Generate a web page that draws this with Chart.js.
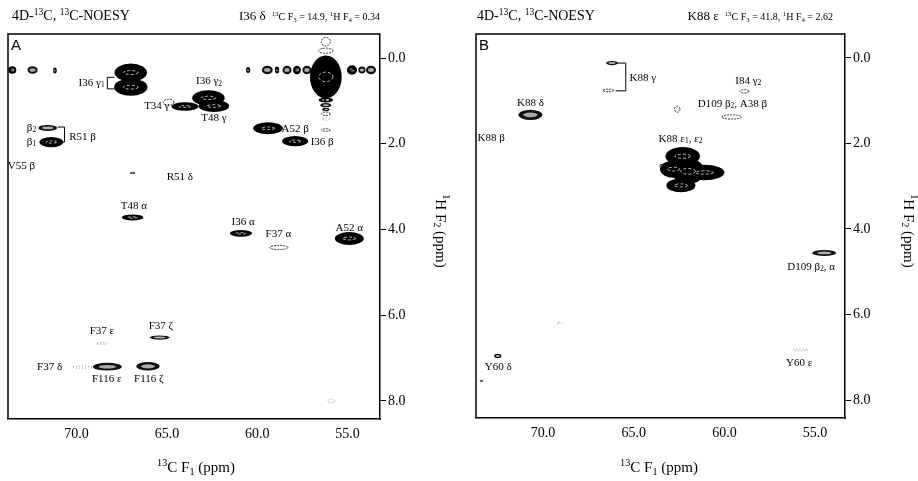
<!DOCTYPE html>
<html>
<head>
<meta charset="utf-8">
<script src="https://cdn.jsdelivr.net/npm/chart.js@4.4.0/dist/chart.umd.min.js"></script>
<style>
    body { margin: 0; background: #fff; }
    canvas { position: absolute; top: 0; }
    #chart-a { left: 0; }
    #chart-b { left: 459px; }
</style>
</head>
<body>
<canvas id="chart-a" width="459" height="481"></canvas>
<canvas id="chart-b" width="459" height="481"></canvas>
<script>
// tick labels (ppm)
const xTicks = [70, 65, 60, 55];
const yTicks = [0, 2, 4, 6, 8];

// axis ranges (ppm)
const rangeA_c = [53.2, 73.8];
const rangeB_c = [53.35, 73.7];
const rangeH = [-0.56, 8.42];

// panel A cross peaks: 13C F1, 1H F2, half widths, relative intensity
const peaksA_c = [73.56, 72.44, 71.2, 60.5, 59.44, 58.9, 58.35, 57.8, 57.25, 54.75, 54.2, 53.7,
    56.2, 56.2, 56.2, 56.2, 56.2, 56.2, 56.2, 56.2, 56.2,
    67.0, 67.0, 62.7, 64.0, 62.4, 64.9, 59.4, 57.9, 71.6, 71.4, 66.9,
    66.9, 60.9, 58.8, 54.9, 65.4, 68.6, 69.7, 68.3, 66.05, 55.9];
const peaksA_h = [0.28, 0.28, 0.29, 0.28, 0.28, 0.28, 0.28, 0.28, 0.28, 0.28, 0.28, 0.28,
    0.44, 0.98, 1.1, 1.2, 1.3, 1.42, -0.38, -0.17, 1.68,
    0.34, 0.68, 0.93, 1.13, 1.12, 1.03, 1.64, 1.94, 1.63, 1.96, 2.68,
    3.72, 4.09, 4.42, 4.21, 6.52, 6.66, 7.21, 7.2, 7.19, 8.0];
const peaksA_wc = [0.22, 0.28, 0.1, 0.12, 0.3, 0.12, 0.25, 0.22, 0.25, 0.28, 0.2, 0.28,
    0.88, 0.4, 0.3, 0.2, 0.25, 0.2, 0.25, 0.4, 0.25,
    0.9, 0.92, 0.9, 0.75, 0.85, 0.3, 0.82, 0.72, 0.52, 0.66, 0.15,
    0.6, 0.62, 0.5, 0.8, 0.55, 0.3, 0.55, 0.8, 0.65, 0.2];
const peaksA_wh = [0.09, 0.09, 0.07, 0.07, 0.1, 0.08, 0.1, 0.1, 0.1, 0.11, 0.08, 0.1,
    0.5, 0.06, 0.05, 0.04, 0.04, 0.03, 0.1, 0.06, 0.03,
    0.21, 0.2, 0.18, 0.1, 0.14, 0.07, 0.14, 0.12, 0.07, 0.12, 0.02,
    0.07, 0.08, 0.05, 0.15, 0.05, 0.02, 0.025, 0.09, 0.1, 0.04];
const peaksA_int = [0.85, 0.6, 0.85, 0.85, 0.6, 0.85, 0.6, 0.85, 0.6, 0.9, 0.6, 0.6,
    1, 0.85, 0.6, 0.85, 0.3, 0.15, 0.3, 0.3, 0.2,
    1, 1, 1, 1, 1, 0.3, 1, 1, 0.7, 1, 0.5,
    0.85, 0.85, 0.3, 1, 0.6, 0.15, 0.15, 0.7, 0.5, 0.15];

// panel B cross peaks
const peaksB_c = [66.2, 66.4, 70.7, 58.9, 59.6, 62.6, 62.0, 62.3, 62.8, 61.1, 62.4, 63.5, 54.5, 69.1, 72.5, 55.8, 73.4];
const peaksB_h = [0.12, 0.76, 1.33, 0.78, 1.38, 1.2, 2.65, 2.3, 2.6, 2.68, 2.98, 2.52, 4.56, 6.2, 6.97, 6.83, 7.55];
const peaksB_wc = [0.32, 0.3, 0.66, 0.25, 0.55, 0.15, 0.9, 0.95, 0.75, 1.1, 0.8, 0.08, 0.66, 0.12, 0.2, 0.4, 0.1];
const peaksB_wh = [0.05, 0.03, 0.12, 0.04, 0.05, 0.07, 0.3, 0.22, 0.2, 0.18, 0.16, 0.04, 0.07, 0.02, 0.05, 0.02, 0.02];
const peaksB_int = [0.5, 0.25, 0.6, 0.3, 0.35, 0.2, 1, 1, 1, 1, 1, 0.85, 0.45, 0.15, 0.7, 0.1, 0.6];

// assignments
const labelsA_text = ['I36 γ_{1}', 'I36 γ_{2}', 'T34 γ', 'T48 γ', 'A52 β', 'I36 β', 'β_{2}', 'β_{1}', 'R51 β',
    'V55 β', 'R51 δ', 'T48 α', 'I36 α', 'F37 α', 'A52 α', 'F37 ζ', 'F37 ε', 'F37 δ', 'F116 ε', 'F116 ζ'];
const labelsA_c = [69.17, 62.67, 65.56, 62.4, 57.9, 56.4, 72.5, 72.5, 69.67,
    73.06, 64.28, 66.83, 60.78, 58.83, 54.9, 65.33, 68.6, 71.5, 68.33, 66.0];
const labelsA_h = [0.58, 0.55, 1.12, 1.41, 1.66, 1.96, 1.63, 1.96, 1.84,
    2.52, 2.78, 3.45, 3.83, 4.11, 3.96, 6.26, 6.38, 7.22, 7.5, 7.5];

const labelsB_text = ['K88 γ', 'K88 δ', 'K88 β', 'I84 γ_{2}', 'D109 β_{2}, A38 β', 'K88 ε_{1}, ε_{2}',
    'D109 β_{2}, α', 'Y60 δ', 'Y60 ε'];
const labelsB_c = [64.5, 70.7, 72.86, 58.68, 59.56, 62.42, 55.22, 72.47, 55.88];
const labelsB_h = [0.47, 1.05, 1.87, 0.54, 1.07, 1.89, 4.88, 7.24, 7.13];

// brackets: vertical at c0, arms to c1, from h0 to h1
const bracketsA = [[68.3, 67.9, 0.45, 0.72], [70.67, 71.05, 1.61, 1.96]];
const bracketsB = [[65.44, 66.0, 0.12, 0.77]];

const SERIF = '"Liberation Serif", "DejaVu Serif", serif';
const SANS = '"Liberation Sans", Arial, sans-serif';

// tiny markup: ^{..} superscript, _{..} subscript
function parseRich(str) {
    const out = [];
    const re = /(\^|_)\{([^}]*)\}|([^\^_]+)/g;
    let m;
    while ((m = re.exec(str))) {
        if (m[3]) out.push({ t: m[3], mode: 0 });
        else out.push({ t: m[2], mode: m[1] === '^' ? 1 : -1 });
    }
    return out;
}

function drawRich(ctx, str, x, y, size, align, family) {
    const parts = parseRich(str);
    let w = 0;
    parts.forEach(p => {
        p.size = p.mode ? size * 0.68 : size;
        ctx.font = p.size + 'px ' + family;
        p.w = ctx.measureText(p.t).width;
        w += p.w;
    });
    let cx = align === 'center' ? x - w / 2 : align === 'right' ? x - w : x;
    ctx.textAlign = 'left';
    parts.forEach(p => {
        ctx.font = p.size + 'px ' + family;
        const dy = p.mode === 1 ? -size * 0.38 : p.mode === -1 ? size * 0.22 : 0;
        ctx.fillText(p.t, cx, y + dy);
        cx += p.w;
    });
    return w;
}

function fillPeak(ctx, px, py, rx, ry, level) {
    ctx.beginPath();
    ctx.ellipse(px, py, rx, ry, 0, 0, Math.PI * 2);
    if (level >= 0.8) {
        ctx.fillStyle = '#000';
        ctx.fill();
    } else if (level >= 0.45) {
        ctx.fillStyle = '#111';
        ctx.fill();
        ctx.beginPath();
        ctx.ellipse(px, py, rx * 0.6, ry * 0.45, 0, 0, Math.PI * 2);
        ctx.fillStyle = '#aaa';
        ctx.fill();
    } else {
        ctx.save();
        ctx.strokeStyle = level >= 0.2 ? '#333' : '#888';
        ctx.lineWidth = 1;
        ctx.setLineDash(level >= 0.2 ? [2, 1] : [1, 2]);
        ctx.stroke();
        ctx.restore();
    }
}

// white contour streaks inside strong peaks, drawn after all fills
function streakPeak(ctx, px, py, rx, ry, level) {
    if (level < 0.8) return;
    ctx.save();
    ctx.beginPath();
    ctx.ellipse(px, py, rx * 0.45, Math.max(ry * 0.22, 0.6), 0, 0, Math.PI * 2);
    ctx.strokeStyle = 'rgba(255,255,255,0.7)';
    ctx.lineWidth = 1;
    ctx.setLineDash([3, 2]);
    ctx.stroke();
    ctx.restore();
}

const spectrumPlugin = {
    id: 'spectrum',
    afterDatasetsDraw(chart) {
        const ctx = chart.ctx;
        const xs = chart.scales.x;
        const ys = chart.scales.y;
        const area = chart.chartArea;
        const cfg = chart.options.plugins.spectrum;

        const geo = chart.data.datasets[0].data.map(p => {
            const px = xs.getPixelForValue(p.x);
            const py = ys.getPixelForValue(p.y);
            return {
                px, py,
                rx: Math.abs(xs.getPixelForValue(p.x + p.wc) - px),
                ry: Math.abs(ys.getPixelForValue(p.y + p.wh) - py),
                i: p.i
            };
        });

        ctx.save();
        ctx.beginPath();
        ctx.rect(area.left, area.top, area.right - area.left, area.bottom - area.top);
        ctx.clip();
        geo.forEach(g => fillPeak(ctx, g.px, g.py, g.rx, g.ry, g.i));
        geo.forEach(g => streakPeak(ctx, g.px, g.py, g.rx, g.ry, g.i));
        ctx.restore();

        // frame top and left
        ctx.save();
        ctx.strokeStyle = '#000';
        ctx.lineWidth = 1.5;
        ctx.beginPath();
        ctx.moveTo(area.left, area.bottom);
        ctx.lineTo(area.left, area.top);
        ctx.lineTo(area.right, area.top);
        ctx.stroke();

        // brackets
        ctx.lineWidth = 1;
        cfg.brackets.forEach(b => {
            const x0 = xs.getPixelForValue(b[0]);
            const x1 = xs.getPixelForValue(b[1]);
            const y0 = ys.getPixelForValue(b[2]);
            const y1 = ys.getPixelForValue(b[3]);
            ctx.beginPath();
            ctx.moveTo(x1, y0);
            ctx.lineTo(x0, y0);
            ctx.lineTo(x0, y1);
            ctx.lineTo(x1, y1);
            ctx.stroke();
        });

        // assignments
        ctx.fillStyle = '#000';
        ctx.textBaseline = 'middle';
        cfg.labels.text.forEach((t, k) => {
            const px = xs.getPixelForValue(cfg.labels.c[k]);
            const py = ys.getPixelForValue(cfg.labels.h[k]);
            drawRich(ctx, t, px, py, 11, 'center', SERIF);
        });

        // panel letter
        ctx.textBaseline = 'alphabetic';
        ctx.font = '15px ' + SANS;
        ctx.textAlign = 'left';
        ctx.fillText(cfg.letter, area.left + 3, area.top + 16);

        // titles
        drawRich(ctx, '4D-^{13}C, ^{13}C-NOESY', cfg.titleLeft, 20, 14, 'left', SERIF);
        const w = drawRich(ctx, cfg.params, cfg.titleRight, 20, 10, 'right', SERIF);
        drawRich(ctx, cfg.nucleus, cfg.titleRight - w - 6, 20, 13, 'right', SERIF);

        // axis titles
        drawRich(ctx, '^{13}C F_{1} (ppm)', cfg.xTitleX, 472, 15, 'center', SERIF);
        ctx.translate(cfg.yTitleX, 231);
        ctx.rotate(Math.PI / 2);
        ctx.textBaseline = 'middle';
        drawRich(ctx, '^{1}H F_{2} (ppm)', 0, 0, 15, 'center', SERIF);
        ctx.restore();
    }
};

function buildPoints(c, h, wc, wh, inten) {
    return c.map((v, k) => ({ x: v, y: h[k], wc: wc[k], wh: wh[k], i: inten[k] }));
}

function makePanel(id, panel) {
    const tickFont = { family: SERIF, size: 14 };
    return new Chart(document.getElementById(id), {
        type: 'scatter',
        data: {
            datasets: [{
                data: panel.points,
                pointRadius: 0,
                pointHoverRadius: 0
            }]
        },
        options: {
            responsive: false,
            animation: false,
            events: [],
            layout: { padding: { left: panel.padLeft, top: 34, right: 0, bottom: 0 } },
            plugins: {
                legend: { display: false },
                tooltip: { enabled: false },
                spectrum: panel
            },
            scales: {
                x: {
                    type: 'linear',
                    reverse: true,
                    min: panel.range[0],
                    max: panel.range[1],
                    afterBuildTicks: s => { s.ticks = xTicks.map(v => ({ value: v })); },
                    afterFit: s => { s.height = panel.xHeight; },
                    ticks: {
                        callback: v => v.toFixed(1),
                        color: '#000',
                        font: tickFont,
                        padding: 7,
                        maxRotation: 0,
                        autoSkip: false
                    },
                    grid: { drawOnChartArea: false, drawTicks: false },
                    border: { display: true, color: '#000', width: 1.5 }
                },
                y: {
                    type: 'linear',
                    position: 'right',
                    reverse: true,
                    min: rangeH[0],
                    max: rangeH[1],
                    afterBuildTicks: s => { s.ticks = yTicks.map(v => ({ value: v })); },
                    afterFit: s => { s.width = panel.yWidth; },
                    ticks: {
                        callback: v => v.toFixed(1),
                        color: '#000',
                        font: tickFont,
                        padding: 2
                    },
                    grid: { drawOnChartArea: false, drawTicks: true, tickLength: 6, color: '#000' },
                    border: { display: true, color: '#000', width: 1.5 }
                }
            }
        },
        plugins: [spectrumPlugin]
    });
}

makePanel('chart-a', {
    points: buildPoints(peaksA_c, peaksA_h, peaksA_wc, peaksA_wh, peaksA_int),
    range: rangeA_c,
    padLeft: 8,
    yWidth: 79,
    xHeight: 62,
    brackets: bracketsA,
    labels: { text: labelsA_text, c: labelsA_c, h: labelsA_h },
    letter: 'A',
    nucleus: 'I36 δ',
    params: '^{13}C F_{3} = 14.9, ^{1}H F_{4} = 0.34',
    titleLeft: 12,
    titleRight: 380,
    xTitleX: 196,
    yTitleX: 440
});

makePanel('chart-b', {
    points: buildPoints(peaksB_c, peaksB_h, peaksB_wc, peaksB_wh, peaksB_int),
    range: rangeB_c,
    padLeft: 17,
    yWidth: 73,
    xHeight: 63,
    brackets: bracketsB,
    labels: { text: labelsB_text, c: labelsB_c, h: labelsB_h },
    letter: 'B',
    nucleus: 'K88 ε',
    params: '^{13}C F_{3} = 41.8, ^{1}H F_{4} = 2.62',
    titleLeft: 18,
    titleRight: 374,
    xTitleX: 200,
    yTitleX: 449
});
</script>
</body>
</html>
